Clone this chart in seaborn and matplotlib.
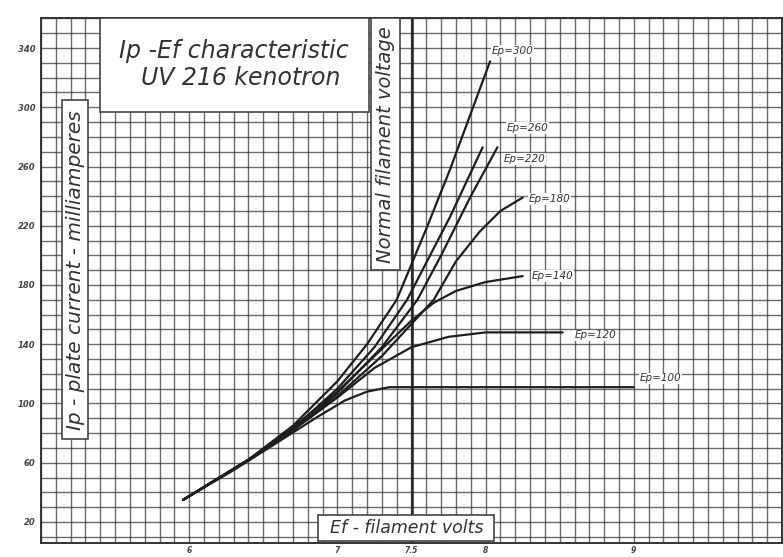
import matplotlib
matplotlib.use("Agg")
import matplotlib.pyplot as plt
from matplotlib.patches import Rectangle
import seaborn as sns
import pandas as pd
import numpy as np

# ---- data (filament volts, plate milliamperes) ----
ep_labels = ["Ep=300", "Ep=260", "Ep=220", "Ep=180", "Ep=140", "Ep=120", "Ep=100"]

ef_300 = [5.96, 6.40, 6.70, 7.00, 7.20, 7.40, 7.60, 7.76, 8.03]
ip_300 = [35, 62, 85, 115, 140, 170, 218, 258, 331]

ef_260 = [5.96, 6.40, 6.70, 7.00, 7.25, 7.47, 7.76, 7.98]
ip_260 = [35, 62, 83, 110, 138, 170, 226, 273]

ef_220 = [5.96, 6.40, 6.70, 7.00, 7.30, 7.54, 7.70, 7.90, 8.08]
ip_220 = [35, 62, 82, 107, 138, 170, 200, 240, 273]

ef_180 = [5.96, 6.40, 6.70, 7.00, 7.30, 7.65, 7.80, 7.96, 8.10, 8.25]
ip_180 = [35, 62, 82, 105, 132, 170, 196, 216, 230, 239]

ef_140 = [5.96, 6.40, 6.75, 7.00, 7.25, 7.50, 7.65, 7.80, 8.00, 8.25]
ip_140 = [35, 62, 88, 108, 132, 156, 168, 176, 182, 186]

ef_120 = [5.96, 6.40, 6.70, 7.00, 7.25, 7.50, 7.75, 8.00, 8.52]
ip_120 = [35, 62, 82, 104, 124, 138, 145, 148, 148]

ef_100 = [5.96, 6.30, 6.60, 6.85, 7.05, 7.20, 7.35, 9.00]
ip_100 = [35, 55, 74, 90, 102, 108, 111, 111]

label_pos_x = [8.04, 8.14, 8.12, 8.29, 8.31, 8.60, 9.04]
label_pos_y = [338, 286, 265, 238, 186, 146, 117]

x_ticks = [6, 7, 7.5, 8, 9]
x_ticklabels = ["6", "7", "7.5", "8", "9"]
y_ticks = [20, 60, 100, 140, 180, 220, 260, 300, 340]

series = [(ef_300, ip_300), (ef_260, ip_260), (ef_220, ip_220), (ef_180, ip_180),
          (ef_140, ip_140), (ef_120, ip_120), (ef_100, ip_100)]
frames = []
for lab, (xs, ys) in zip(ep_labels, series):
    frames.append(pd.DataFrame({"ef": xs, "ip": ys, "curve": lab}))
df = pd.concat(frames, ignore_index=True)

sns.set_style("white")
plt.rcParams["font.family"] = ["DejaVu Sans"]

fig = plt.figure(figsize=(7.83, 5.57), dpi=100)
ax = fig.add_axes([41/783, 1 - 543/557, (782 - 41)/783, (543 - 18.4)/557])
ax.set_xlim(5, 10)
ax.set_ylim(5.8, 360)

# graph-paper grid
grid_c = "#3a3a3a"
for xv in np.arange(5.0, 10.01, 0.1):
    ax.axvline(xv, color=grid_c, lw=1.0, alpha=0.75, zorder=1)
for yv in np.arange(10, 361, 10):
    ax.axhline(yv, color=grid_c, lw=1.0, alpha=0.75, zorder=1)
ax.axvline(7.5, color="#222222", lw=1.8, zorder=1.5)

sns.lineplot(data=df, x="ef", y="ip", units="curve", estimator=None, sort=False,
             color="#1e1e1e", lw=1.6, ax=ax, zorder=3, legend=False)

for lab, lx, ly in zip(ep_labels, label_pos_x, label_pos_y):
    ax.text(lx, ly, lab, fontsize=7.5, style="italic", color="#333333",
            ha="left", va="center", zorder=4,
            bbox=dict(facecolor="white", edgecolor="none", pad=0.5))

for sp in ax.spines.values():
    sp.set_color("#333333")
    sp.set_linewidth(1.4)

ax.set_xticks(x_ticks)
ax.set_xticklabels(x_ticklabels, fontsize=5.5, style="italic", fontweight="bold", color="#444444")
ax.set_yticks(y_ticks)
ax.set_yticklabels([str(v) for v in y_ticks], fontsize=6, style="italic", fontweight="bold", color="#444444")
ax.tick_params(axis="x", length=2, width=1, color="#444444", pad=0.5)
ax.tick_params(axis="y", length=3, width=1, color="#444444", pad=1)
ax.set_xlabel("")
ax.set_ylabel("")

# annotation boxes (white panels on the graph paper)
def panel(x0, x1, y0, y1):
    ax.add_patch(Rectangle((x0, y0), x1 - x0, y1 - y0, facecolor="white",
                           edgecolor="#444444", lw=1.2, zorder=4.5))

panel(5.40, 7.21, 297, 360)
ax.text(6.30, 329, "Ip -Ef characteristic\n  UV 216 kenotron", fontsize=17, style="italic",
        color="#333333", ha="center", va="center", linespacing=1.15, zorder=5)

panel(5.14, 5.32, 76, 305)
ax.text(5.23, 190, "Ip - plate current - milliamperes", rotation=90, fontsize=14.5,
        style="italic", color="#333333", ha="center", va="center", zorder=5)

panel(7.23, 7.42, 190, 360)
ax.text(7.325, 275, "Normal filament voltage", rotation=90, fontsize=14,
        style="italic", color="#333333", ha="center", va="center", zorder=5)

panel(6.87, 8.06, 7, 25)
ax.text(7.47, 16, "Ef - filament volts", fontsize=12.5, style="italic", color="#333333",
        ha="center", va="center", zorder=5)

fig.savefig("out.png", dpi=100)
